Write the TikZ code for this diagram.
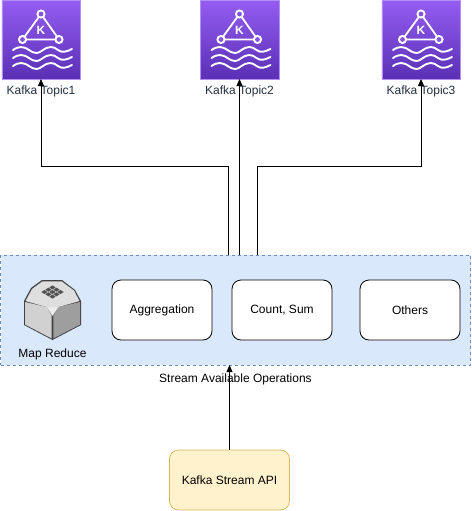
\documentclass[tikz,border=0pt]{standalone}
\usepackage{fontspec}
\setmainfont{Liberation Sans}
\usetikzlibrary{arrows.meta,calc}
\definecolor{panelfill}{HTML}{DAE8FC}
\definecolor{paneledge}{HTML}{6C8EBF}
\definecolor{apifill}{HTML}{FFF2CC}
\definecolor{apiedge}{HTML}{D6B656}
\definecolor{topictext}{HTML}{232F3E}
\definecolor{kafkatop}{HTML}{945DF2}
\definecolor{kafkabot}{HTML}{5A30B5}
\tikzset{
  x=1pt,y=-1pt,
  lbl/.style={font=\fontsize{12}{13}\selectfont,text=black,inner sep=0pt},
  topiclbl/.style={font=\fontsize{12}{13}\selectfont,text=topictext,inner sep=0pt},
  opbox/.style={draw=black,fill=white,rounded corners=9pt,minimum width=100pt,minimum height=60pt,inner sep=0pt,line width=.8pt,font=\fontsize{12}{13}\selectfont},
  topicicon/.style={draw=kafkatop!70!white,line width=.5pt,top color=kafkatop,bottom color=kafkabot,minimum width=78.5pt,minimum height=78.5pt,inner sep=0pt},
  conn/.style={draw=black,line width=.8pt,-{Triangle[length=7pt,width=6pt]}},
  wave/.style={draw=white,line width=1.9pt,line cap=round},
  tri/.style={draw=white,line width=1.8pt},
  pics/kafkaglyph/.style={code={
    \draw[tri] (0,-25.5) -- (-18.5,0) -- (18,0) -- cycle;
    \foreach \q in {(0,-25.5),(-18.5,0),(18,0)}{
      \fill[white] \q circle (4.6pt);
      \fill[kafkatop!75!kafkabot] \q circle (2.4pt);
    }
    \node[text=white,inner sep=0pt,font=\bfseries\fontsize{12}{13}\selectfont] at (0,-9.5) {K};
    \foreach \yy in {10.5,18.5,26.5}{
      \draw[wave] (-28,\yy) .. controls (-22,\yy-4) and (-18,\yy-4) .. (-12,\yy)
        .. controls (-6,\yy+4) and (-3,\yy+4) .. (2,\yy)
        .. controls (8,\yy-4) and (12,\yy-4) .. (17,\yy)
        .. controls (21,\yy+3) and (25,\yy+2) .. (31,\yy-1);
    }
  }}
}
\begin{document}
\begin{tikzpicture}
\useasboundingbox (0,0) rectangle (471,511);

% operations panel
\node[draw=paneledge,fill=panelfill,dashed,line width=.6pt,minimum width=470pt,minimum height=110pt,inner sep=0pt] (panel) at (235.5,310) {};

% topics
\node[topicicon] (t1) at (41,39.5) {};
\node[topicicon] (t2) at (239.5,39.5) {};
\node[topicicon] (t3) at (421,39.5) {};
\pic at (t1.center) {kafkaglyph};
\pic at (t2.center) {kafkaglyph};
\pic at (t3.center) {kafkaglyph};
\node[topiclbl] (l1) at (41,91) {Kafka Topic1};
\node[topiclbl] (l2) at (239.5,91) {Kafka Topic2};
\node[topiclbl] (l3) at (421,91) {Kafka Topic3};

% map reduce icon
\coordinate (mr) at (52.5,310);
\fill[black!75] ($(mr)+(-21.5,-22)$) -- ($(mr)+(-10.5,-30)$) -- ($(mr)+(9.5,-30)$) -- ($(mr)+(22.5,-20)$) -- ($(mr)+(28.5,-9)$) -- ($(mr)+(28.5,15)$) -- ($(mr)+(0,30)$) -- ($(mr)+(-28.5,15)$) -- ($(mr)+(-28.5,-9)$) -- cycle;
\fill[black!18] ($(mr)+(-27.5,-8)$) -- ($(mr)+(-6,-3)$) -- ($(mr)+(-.8,6)$) -- ($(mr)+(-.8,28.5)$) -- ($(mr)+(-27.5,14.5)$) -- cycle;
\fill[black!38] ($(mr)+(27.5,-8)$) -- ($(mr)+(6,-3)$) -- ($(mr)+(.8,6)$) -- ($(mr)+(.8,28.5)$) -- ($(mr)+(27.5,14.5)$) -- cycle;
\fill[black!8] ($(mr)+(-6,-3)$) -- ($(mr)+(6,-3)$) -- ($(mr)+(0,6)$) -- cycle;
\fill[black!13] ($(mr)+(-20.5,-21)$) -- ($(mr)+(-10,-28.7)$) -- ($(mr)+(9,-28.7)$) -- ($(mr)+(21.5,-19.5)$) -- ($(mr)+(27,-9)$) -- ($(mr)+(6,-3)$) -- ($(mr)+(-6,-3)$) -- ($(mr)+(-27,-9)$) -- cycle;
\foreach \dx/\dy in {0/-22.6,-4/-20.3,4/-20.3,-8/-18,0/-18,8/-18,-4/-15.7,4/-15.7,0/-13.4}{
  \fill[black!68] ($(mr)+(\dx,\dy)+(0,-2)$) -- ++(3.2,2) -- ++(-3.2,2) -- ++(-3.2,-2) -- cycle;
}
\node[lbl] (mrl) at (52.5,354) {Map Reduce};

% operations
\node[opbox] (agg) at (162,310) {Aggregation};
\node[opbox] (cnt) at (282,310) {Count, Sum};
\node[opbox] (oth) at (410,310) {Others};
\node[lbl,fill=none] (sao) at (235.5,379) {Stream Available Operations};

% api
\node[draw=apiedge,fill=apifill,rounded corners=9pt,minimum width=120pt,minimum height=60pt,inner sep=0pt,line width=.7pt,font=\fontsize{12}{13}\selectfont] (api) at (229.5,480) {Kafka Stream API};

% connectors
\coordinate (p1) at (228,255);
\coordinate (p2) at (239.5,255);
\coordinate (p3) at (257,255);
\coordinate (pb) at (229.5,365);
\draw[conn] (p1) -- (228,166) -- (41,166) -- (t1.south);
\draw[conn] (p2) -- (t2.south);
\draw[conn] (p3) -- (257,166) -- (421,166) -- (t3.south);
\draw[conn] (api.north -| pb) -- (pb);
\end{tikzpicture}
\end{document}
